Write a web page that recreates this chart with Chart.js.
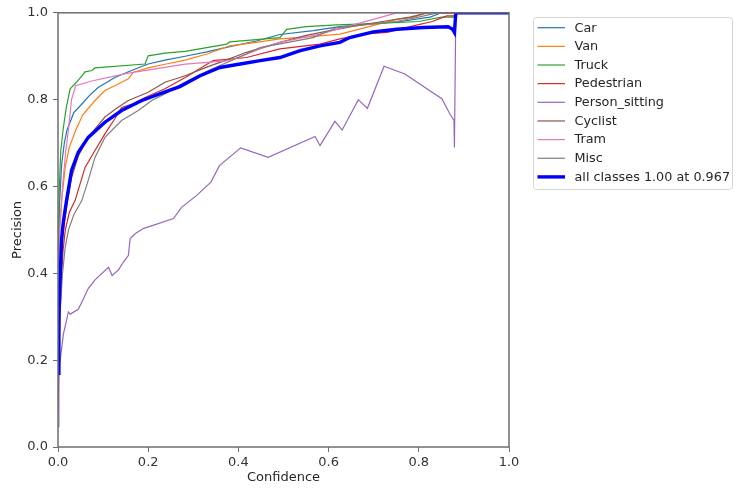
<!DOCTYPE html>
<html>
<head>
<meta charset="utf-8">
<script src="https://cdn.jsdelivr.net/npm/chart.js@4"></script>
<style>
  html, body { margin: 0; padding: 0; background: #fff; }
  #c { display: block; }
</style>
</head>
<body>
<canvas id="c" width="736" height="488"></canvas>
<script>
// ---- data ----
const seriesNames = ["Car", "Van", "Truck", "Pedestrian", "Person_sitting", "Cyclist", "Tram", "Misc", "all classes 1.00 at 0.967"];
const xTicks = [0, 0.2, 0.4, 0.6, 0.8, 1.0];
const yTicks = [0, 0.2, 0.4, 0.6, 0.8, 1.0];

const carConf = [0, 0.003, 0.008, 0.014, 0.02, 0.035, 0.053, 0.07, 0.089, 0.126, 0.163, 0.2, 0.237, 0.282, 0.33, 0.381, 0.44, 0.492, 0.566, 0.625, 0.7, 0.76, 0.825, 0.85, 1.0];
const carPrec = [0.35, 0.55, 0.65, 0.7, 0.73, 0.77, 0.79, 0.81, 0.828, 0.851, 0.867, 0.882, 0.891, 0.9, 0.91, 0.922, 0.935, 0.95, 0.959, 0.968, 0.975, 0.98, 0.99, 1.0, 1.0];

const vanConf = [0, 0.002, 0.004, 0.008, 0.016, 0.025, 0.039, 0.055, 0.082, 0.104, 0.126, 0.156, 0.167, 0.2, 0.24, 0.282, 0.33, 0.381, 0.44, 0.492, 0.56, 0.625, 0.69, 0.751, 0.79, 0.817, 1.0];
const vanPrec = [0.3, 0.42, 0.5, 0.568, 0.644, 0.69, 0.729, 0.765, 0.798, 0.821, 0.832, 0.848, 0.863, 0.873, 0.882, 0.891, 0.905, 0.924, 0.932, 0.94, 0.945, 0.951, 0.968, 0.985, 0.99, 1.0, 1.0];

const truckConf = [0, 0.003, 0.006, 0.011, 0.018, 0.027, 0.041, 0.06, 0.075, 0.082, 0.193, 0.2, 0.237, 0.282, 0.374, 0.381, 0.492, 0.507, 0.551, 0.618, 0.7, 0.8, 0.85, 0.878, 0.882, 1.0];
const truckPrec = [0.4, 0.6, 0.68, 0.729, 0.78, 0.825, 0.84, 0.864, 0.867, 0.873, 0.882, 0.901, 0.907, 0.911, 0.928, 0.933, 0.943, 0.962, 0.968, 0.972, 0.975, 0.98, 0.99, 0.99, 1.0, 1.0];

const pedConf = [0, 0.003, 0.007, 0.011, 0.016, 0.025, 0.038, 0.06, 0.082, 0.104, 0.126, 0.141, 0.165, 0.193, 0.237, 0.282, 0.344, 0.418, 0.492, 0.581, 0.625, 0.677, 0.73, 0.788, 0.83, 0.862, 0.878, 0.882, 1.0];
const pedPrec = [0.08, 0.25, 0.38, 0.45, 0.499, 0.54, 0.568, 0.644, 0.683, 0.721, 0.756, 0.782, 0.79, 0.805, 0.825, 0.851, 0.89, 0.897, 0.917, 0.928, 0.94, 0.951, 0.955, 0.97, 0.98, 0.993, 0.993, 1.0, 1.0];

const sitConf = [0, 0.002, 0.012, 0.023, 0.027, 0.045, 0.053, 0.067, 0.082, 0.112, 0.12, 0.134, 0.145, 0.156, 0.16, 0.171, 0.189, 0.256, 0.274, 0.307, 0.339, 0.358, 0.405, 0.466, 0.57, 0.581, 0.614, 0.63, 0.666, 0.686, 0.723, 0.769, 0.851, 0.869, 0.878, 0.879, 0.882, 1.0];
const sitPrec = [0.047, 0.177, 0.26, 0.311, 0.306, 0.317, 0.334, 0.365, 0.385, 0.414, 0.395, 0.408, 0.426, 0.441, 0.48, 0.491, 0.503, 0.526, 0.552, 0.579, 0.61, 0.648, 0.689, 0.667, 0.715, 0.694, 0.75, 0.73, 0.8, 0.78, 0.877, 0.859, 0.802, 0.767, 0.752, 0.69, 1.0, 1.0];

const cycConf = [0, 0.003, 0.007, 0.012, 0.02, 0.03, 0.045, 0.06, 0.08, 0.104, 0.13, 0.156, 0.2, 0.237, 0.282, 0.33, 0.37, 0.418, 0.492, 0.55, 0.603, 0.66, 0.72, 0.78, 0.82, 1.0];
const cycPrec = [0.12, 0.3, 0.42, 0.5, 0.56, 0.62, 0.67, 0.7, 0.73, 0.76, 0.78, 0.798, 0.817, 0.84, 0.855, 0.875, 0.89, 0.909, 0.932, 0.948, 0.959, 0.97, 0.98, 0.99, 1.0, 1.0];

const tramConf = [0, 0.004, 0.01, 0.017, 0.023, 0.03, 0.039, 0.075, 0.15, 0.282, 0.381, 0.448, 0.492, 0.581, 0.64, 0.699, 0.751, 1.0];
const tramPrec = [0.3, 0.5, 0.6, 0.68, 0.729, 0.8, 0.832, 0.843, 0.86, 0.882, 0.89, 0.917, 0.932, 0.951, 0.968, 0.985, 1.0, 1.0];

const miscConf = [0, 0.004, 0.01, 0.016, 0.023, 0.035, 0.053, 0.067, 0.082, 0.104, 0.141, 0.178, 0.208, 0.24, 0.282, 0.34, 0.418, 0.448, 0.51, 0.566, 0.618, 0.68, 0.75, 0.8, 0.84, 1.0];
const miscPrec = [0.15, 0.3, 0.4, 0.46, 0.499, 0.535, 0.568, 0.614, 0.667, 0.713, 0.752, 0.775, 0.798, 0.815, 0.84, 0.87, 0.905, 0.92, 0.932, 0.943, 0.966, 0.972, 0.98, 0.99, 1.0, 1.0];

const allConf = [0, 0.002, 0.005, 0.008, 0.012, 0.019, 0.03, 0.045, 0.067, 0.104, 0.141, 0.186, 0.23, 0.27, 0.315, 0.359, 0.404, 0.448, 0.492, 0.537, 0.581, 0.625, 0.647, 0.699, 0.751, 0.81, 0.865, 0.875, 0.879, 0.882, 1.0];
const allPrec = [0.17, 0.3, 0.4, 0.48, 0.52, 0.568, 0.637, 0.679, 0.713, 0.748, 0.775, 0.798, 0.815, 0.83, 0.855, 0.874, 0.882, 0.89, 0.897, 0.913, 0.924, 0.932, 0.943, 0.956, 0.962, 0.966, 0.968, 0.962, 0.955, 1.0, 1.0];

// ---- build ----
const seriesX = [carConf, vanConf, truckConf, pedConf, sitConf, cycConf, tramConf, miscConf, allConf];
const seriesY = [carPrec, vanPrec, truckPrec, pedPrec, sitPrec, cycPrec, tramPrec, miscPrec, allPrec];
const colors = ["#1f77b4", "#ff7f0e", "#2ca02c", "#d62728", "#9467bd", "#8c564b", "#e377c2", "#7f7f7f", "#0000ff"];

const datasets = seriesNames.map((name, i) => ({
  label: name,
  data: seriesX[i].map((x, j) => ({ x: x, y: seriesY[i][j] })),
  borderColor: colors[i],
  backgroundColor: colors[i],
  borderWidth: i === 8 ? 3.4 : 1.2,
  pointRadius: 0,
  showLine: true,
  tension: 0,
  fill: false,
  order: i === 8 ? 0 : 9 - i
}));

Chart.defaults.font.family = "'DejaVu Sans', sans-serif";
Chart.defaults.font.size = 13;
Chart.defaults.color = "#333";

const framePlugin = {
  id: "frame",
  afterDatasetsDraw(chart) {
    const a = chart.chartArea, ctx = chart.ctx;
    ctx.save();
    ctx.strokeStyle = "#6e6e6e";
    ctx.lineWidth = 1.5;
    ctx.strokeRect(a.left, a.top, a.right - a.left, a.bottom - a.top);
    ctx.restore();
  }
};

const legendPlugin = {
  id: "mplLegend",
  afterDraw(chart) {
    const ctx = chart.ctx;
    const x0 = 533.5, y0 = 17.5, w = 199, h = 172;
    ctx.save();
    ctx.fillStyle = "rgba(255,255,255,0.9)";
    ctx.strokeStyle = "#d6d6d6";
    ctx.lineWidth = 1;
    ctx.beginPath();
    if (ctx.roundRect) ctx.roundRect(x0, y0, w, h, 3); else ctx.rect(x0, y0, w, h);
    ctx.fill();
    ctx.stroke();
    ctx.font = "12.8px 'DejaVu Sans', sans-serif";
    ctx.textBaseline = "middle";
    ctx.textAlign = "left";
    chart.data.datasets.forEach((ds, i) => {
      const y = 27.7 + i * 18.65;
      ctx.strokeStyle = ds.borderColor;
      ctx.lineWidth = ds.borderWidth;
      ctx.beginPath();
      ctx.moveTo(537.5, y);
      ctx.lineTo(565, y);
      ctx.stroke();
      ctx.fillStyle = "#262626";
      ctx.fillText(ds.label, 574.5, y + 0.5);
    });
    ctx.restore();
  }
};

new Chart(document.getElementById("c"), {
  type: "scatter",
  data: { datasets: datasets },
  options: {
    responsive: false,
    devicePixelRatio: 1,
    animation: false,
    layout: { padding: { left: 0, right: 227, top: 12, bottom: 0 } },
    plugins: { legend: { display: false }, tooltip: { enabled: false } },
    scales: {
      x: {
        type: "linear",
        min: 0, max: 1,
        afterFit(scale) { scale.height = 41; },
        afterBuildTicks(scale) { scale.ticks = xTicks.map(v => ({ value: v })); },
        ticks: { callback: v => Number(v).toFixed(1), padding: 3, color: "#333", maxRotation: 0, font: { size: 13 } },
        grid: { display: true, drawOnChartArea: false, drawTicks: true, tickLength: 5, color: "#6e6e6e", lineWidth: 1 },
        border: { display: false },
        title: { display: true, text: "Confidence", color: "#262626", font: { size: 13 }, padding: { top: 0, bottom: 3 } }
      },
      y: {
        type: "linear",
        min: 0, max: 1,
        afterFit(scale) { scale.width = 58; },
        afterBuildTicks(scale) { scale.ticks = yTicks.map(v => ({ value: v })); },
        ticks: { callback: v => Number(v).toFixed(1), padding: 5, color: "#333", font: { size: 13 } },
        grid: { display: true, drawOnChartArea: false, drawTicks: true, tickLength: 5, color: "#6e6e6e", lineWidth: 1 },
        border: { display: false },
        title: { display: true, text: "Precision", color: "#262626", font: { size: 13 }, padding: { top: 10, bottom: 0 } }
      }
    }
  },
  plugins: [framePlugin, legendPlugin]
});
</script>
</body>
</html>
